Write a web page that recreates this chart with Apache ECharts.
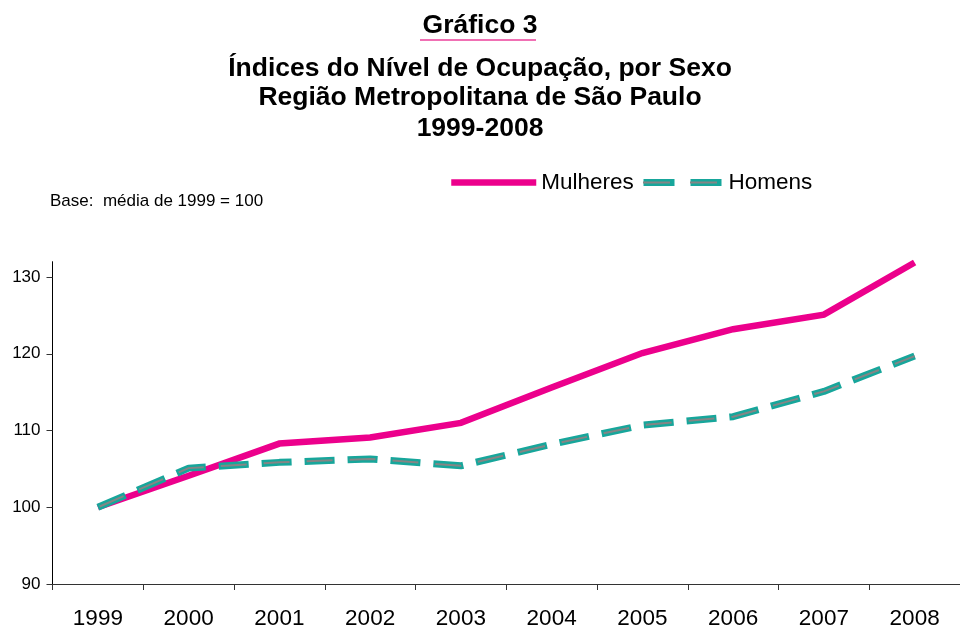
<!DOCTYPE html>
<html><head><meta charset="utf-8">
<script src="https://cdn.jsdelivr.net/npm/echarts@6/dist/echarts.min.js"></script>
<style>html,body{margin:0;padding:0;background:#fff}#c{width:960px;height:630px}</style>
</head><body><div id="c"></div>
<script>
const categories = ['1999','2000','2001','2002','2003','2004','2005','2006','2007','2008'];
const mulheres = [100, 104.1, 108.3, 109.1, 111.0, 115.6, 120.1, 123.2, 125.1, 131.9];
const homens = [100, 105.1, 105.85, 106.3, 105.4, 108.2, 110.7, 111.8, 115.1, 119.7];
const yTicks = [90, 100, 110, 120, 130];
const titleText = 'Gráfico 3';
const subtitleLines = ['Índices do Nível de Ocupação, por Sexo', 'Região Metropolitana de São Paulo', '1999-2008'];
const baseNote = 'Base:  média de 1999 = 100';
const seriesNames = ['Mulheres', 'Homens', 'Homens (centro)'];

const FONT = "'Liberation Sans', Arial, sans-serif";
const PINK = '#ec008c', TEAL = '#17a69b', GRAY = '#858585';
const titleStyle = {fontFamily: FONT, fontWeight: 'bold', fontSize: 26.5, lineHeight: 30, color: '#000'};
const subTops = [54, 83, 114];

const chart = echarts.init(document.getElementById('c'), null, {renderer: 'canvas'});
chart.setOption({
  animation: false,
  backgroundColor: '#fff',
  title: [{text: titleText, left: 'center', top: 11, padding: 0, textStyle: titleStyle}]
    .concat(subtitleLines.map((t, i) => ({text: t, left: 'center', top: subTops[i], padding: 0, textStyle: titleStyle}))),
  graphic: [
    {type: 'line', shape: {x1: 420, y1: 40, x2: 536, y2: 40}, style: {stroke: '#f070b4', lineWidth: 2}},
    {type: 'text', left: 50, top: 193, style: {text: baseNote, font: "17px 'Liberation Sans', Arial, sans-serif", fill: '#000'}}
  ],
  legend: [
    {data: [seriesNames[0]], left: 448, top: 171, padding: 0, itemWidth: 85, itemHeight: 4,
     textStyle: {fontFamily: FONT, fontSize: 22.5, color: '#000'},
     itemStyle: {opacity: 0}, lineStyle: {width: 6.5}},
    {data: [seriesNames[1]], left: 640, top: 171, padding: 0, itemWidth: 80, itemHeight: 4,
     textStyle: {fontFamily: FONT, fontSize: 22.5, color: '#000'},
     itemStyle: {opacity: 0}, lineStyle: {width: 7, type: [31, 16]}},
    {data: [seriesNames[2]], left: 640, top: 171, padding: 0, itemWidth: 80, itemHeight: 4,
     formatter: () => seriesNames[1], textStyle: {fontFamily: FONT, fontSize: 22.5, color: 'rgba(0,0,0,0)'},
     itemStyle: {opacity: 0}, lineStyle: {width: 2, type: [27, 20], dashOffset: -2}}
  ],
  grid: {left: 52.5, right: -5.5, top: 261.7, bottom: 45.7, containLabel: false},
  xAxis: {
    type: 'category', data: categories, boundaryGap: true,
    axisLine: {lineStyle: {color: '#333', width: 1}},
    axisTick: {show: true, length: 6, lineStyle: {color: '#333'}},
    axisLabel: {fontFamily: FONT, fontSize: 22.5, color: '#000', margin: 23},
    splitLine: {show: false}
  },
  yAxis: {
    type: 'value', min: 90, max: 132, interval: 10,
    axisLine: {show: true, lineStyle: {color: '#000', width: 1}},
    axisTick: {show: true, length: 6, lineStyle: {color: '#333'}, customValues: yTicks},
    axisLabel: {fontFamily: FONT, fontSize: 17, color: '#000', margin: 12, customValues: yTicks},
    splitLine: {show: false}
  },
  series: [
    {name: seriesNames[0], type: 'line', data: mulheres, symbol: 'none', z: 2,
     lineStyle: {color: PINK, width: 6.5, cap: 'butt', join: 'miter'}, itemStyle: {color: PINK}},
    {name: seriesNames[1], type: 'line', data: homens, symbol: 'none', z: 3,
     lineStyle: {color: TEAL, width: 7, type: [30, 13], cap: 'butt'}, itemStyle: {color: TEAL}},
    {name: seriesNames[2], type: 'line', data: homens, symbol: 'none', z: 4,
     lineStyle: {color: GRAY, width: 2, type: [26, 17], dashOffset: -2, cap: 'butt'}, itemStyle: {color: GRAY}}
  ]
});
</script></body></html>
